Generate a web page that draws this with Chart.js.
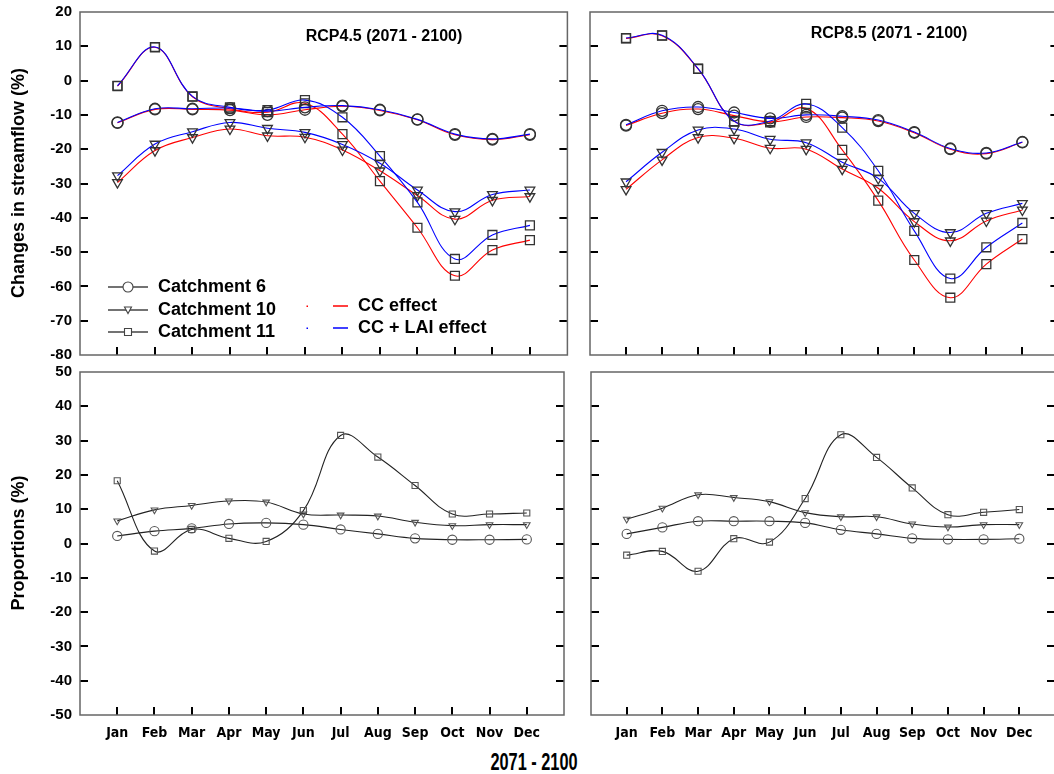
<!DOCTYPE html>
<html><head><meta charset="utf-8">
<script src="https://cdn.jsdelivr.net/npm/chart.js@4.4.0/dist/chart.umd.min.js"></script>
<style>
html,body{margin:0;padding:0;background:#fff;overflow:hidden;width:1054px;height:774px;position:relative;}
canvas{position:absolute;}
.t{position:absolute;font-family:"Liberation Sans",Arial,sans-serif;font-weight:bold;color:#000;white-space:nowrap;line-height:1;}
</style></head><body>
<canvas id="tl"></canvas><canvas id="tr"></canvas><canvas id="bl"></canvas><canvas id="br"></canvas>
<div class="t" id="ytop" style="font-size:18px;left:18px;top:183px;transform:translate(-50%,-50%) rotate(-90deg);">Changes in streamflow (%)</div>
<div class="t" id="ybot" style="font-size:18px;left:18px;top:543px;transform:translate(-50%,-50%) rotate(-90deg);">Proportions (%)</div>
<div class="t" style="font-size:24px;left:534px;top:762px;transform:translate(-50%,-50%) scaleX(0.68);">2071 - 2100</div>
<div class="t" style="font-size:16px;left:384px;top:36px;transform:translate(-50%,-50%);">RCP4.5 (2071 - 2100)</div>
<div class="t" style="font-size:16px;left:889px;top:33px;transform:translate(-50%,-50%);">RCP8.5 (2071 - 2100)</div>
<script>
const months = ['Jan','Feb','Mar','Apr','May','Jun','Jul','Aug','Sep','Oct','Nov','Dec'];
const yTicksTop = [-80,-70,-60,-50,-40,-30,-20,-10,0,10,20];
const yTicksBot = [-50,-40,-30,-20,-10,0,10,20,30,40,50];

// Changes in streamflow (%), RCP4.5 — CC effect (red) / CC + LAI effect (blue)
const c6_45_cc   = [-12.3,-8.4,-8.4,-8.6,-10.0,-8.5,-7.5,-8.7,-11.4,-15.8,-17.2,-15.8];
const c6_45_lai  = [-12.2,-8.2,-8.2,-8.0,-8.9,-7.8,-7.3,-8.5,-11.3,-15.6,-17.0,-15.6];
const c10_45_cc  = [-29.7,-20.4,-16.6,-14.1,-16.1,-16.5,-20.2,-26.3,-33.5,-40.4,-34.9,-33.8];
const c10_45_lai = [-27.7,-18.5,-14.9,-12.2,-13.9,-15.1,-18.6,-24.1,-31.9,-38.2,-33.2,-31.9];
const c11_45_cc  = [-1.6,9.7,-4.7,-8.2,-9.2,-6.6,-15.6,-29.3,-42.9,-56.9,-49.4,-46.5];
const c11_45_lai = [-1.5,9.8,-4.6,-7.8,-8.6,-5.7,-10.7,-22.0,-35.5,-52.0,-45.0,-42.2];

// RCP8.5
const c6_85_cc   = [-13.1,-9.5,-8.3,-10.2,-12.0,-10.6,-10.8,-11.8,-15.2,-20.0,-21.3,-18.0];
const c6_85_lai  = [-12.9,-8.8,-7.7,-9.3,-11.0,-10.0,-10.4,-11.5,-15.0,-19.8,-21.1,-17.9];
const c10_85_cc  = [-31.7,-23.1,-16.6,-16.8,-19.7,-20.0,-25.8,-31.4,-41.1,-46.7,-40.9,-37.7];
const c10_85_lai = [-29.5,-20.9,-14.4,-14.1,-17.1,-18.1,-23.8,-28.5,-38.7,-44.3,-38.7,-35.8];
const c11_85_cc  = [12.3,13.1,3.4,-11.8,-12.2,-8.1,-20.2,-35.0,-52.3,-63.3,-53.5,-46.2];
const c11_85_lai = [12.4,13.2,3.5,-11.8,-11.8,-6.8,-13.7,-26.3,-43.8,-57.7,-48.6,-41.5];

// Proportions (%)
const p6_45  = [2.2,3.6,4.4,5.7,6.0,5.5,4.1,2.8,1.5,1.1,1.1,1.2];
const p10_45 = [6.6,9.8,11.1,12.4,12.1,8.6,8.3,8.0,6.2,5.2,5.5,5.5];
const p11_45 = [18.3,-2.2,4.1,1.5,0.6,9.6,31.5,25.2,16.9,8.6,8.6,8.9];
const p6_85  = [2.8,4.7,6.5,6.5,6.5,6.0,4.0,2.8,1.5,1.2,1.2,1.4];
const p10_85 = [7.1,10.3,14.2,13.4,12.2,9.0,7.8,7.8,5.7,4.8,5.5,5.5];
const p11_85 = [-3.4,-2.3,-8.1,1.4,0.4,13.1,31.7,25.1,16.2,8.4,9.1,9.9];

const FONT = '"Liberation Sans", Arial, sans-serif';
const NARROW = '"Liberation Sans Narrow", "DejaVu Sans Condensed", Arial, sans-serif';
const RED = '#ff0000', BLUE = '#0000ff';

function pts(arr){ return arr.map((v,i)=>({x:i+1,y:v})); }

const shapes = {
  c6:  {pointStyle:'circle', rotation:0},
  c10: {pointStyle:'triangle', rotation:180},
  c11: {pointStyle:'rect', rotation:0}
};
function ds(arr, color, shape, top){
  const s = shapes[shape];
  let r;
  if (top) r = shape==='c6'?5.5:(shape==='c10'?5.6:6.3);
  else r = shape==='c6'?4.6:(shape==='c10'?3.8:4.3);
  return {
    data: pts(arr), borderColor: color, borderWidth: 1.1,
    tension: 0.4, fill:false,
    pointStyle: s.pointStyle, rotation: s.rotation, pointRadius: r,
    pointBorderColor: top?'#333':'#555', pointBackgroundColor:'rgba(0,0,0,0)',
    pointBorderWidth: top?1.3:1.1, clip: false
  };
}

const framePlugin = {
  id:'frame',
  afterDatasetsDraw(chart){
    const ctx = chart.ctx, a = chart.chartArea;
    const xs = chart.scales.x, ys = chart.scales.y;
    ctx.save();
    ctx.strokeStyle = '#000'; ctx.lineWidth = 2;
    ctx.beginPath();
    ys.ticks.forEach(t=>{
      if (t.value > ys.min && t.value < ys.max){
        const py = Math.round(ys.getPixelForValue(t.value));
        ctx.moveTo(a.left, py); ctx.lineTo(a.left+8, py);
        ctx.moveTo(a.right-8, py); ctx.lineTo(a.right, py);
      }
    });
    xs.ticks.forEach(t=>{
      if (t.value >= 1 && t.value <= 12){
        const px = Math.round(xs.getPixelForValue(t.value));
        ctx.moveTo(px, a.bottom); ctx.lineTo(px, a.bottom-8);
      }
    });
    ctx.stroke();
    ctx.strokeStyle = '#666'; ctx.lineWidth = 1.5;
    ctx.strokeRect(a.left, a.top, a.right-a.left, a.bottom-a.top);
    ctx.restore();
  }
};

const legendPlugin = {
  id:'customLegend',
  afterDraw(chart){
    const ctx = chart.ctx;
    ctx.save();
    const rows = [
      {y:287, label:'Catchment 6', shape:'circle'},
      {y:310, label:'Catchment 10', shape:'tri'},
      {y:332, label:'Catchment 11', shape:'rect'}
    ];
    ctx.font = 'bold 18px '+FONT;
    ctx.textBaseline = 'middle';
    ctx.fillStyle = '#000';
    rows.forEach(r=>{
      ctx.strokeStyle = '#444'; ctx.lineWidth = 1.3;
      ctx.beginPath(); ctx.moveTo(108, r.y); ctx.lineTo(148, r.y); ctx.stroke();
      ctx.fillStyle = '#fff'; ctx.strokeStyle = '#444'; ctx.lineWidth = 1.1;
      ctx.beginPath();
      if (r.shape==='circle'){ ctx.arc(128, r.y, 5, 0, Math.PI*2); }
      else if (r.shape==='tri'){ ctx.moveTo(124.5, r.y-3); ctx.lineTo(131.5, r.y-3); ctx.lineTo(128, r.y+3.5); ctx.closePath(); }
      else { ctx.rect(124.5, r.y-3.5, 7, 7); }
      ctx.fill(); ctx.stroke();
      ctx.fillStyle = '#000';
      ctx.fillText(r.label, 158, r.y);
    });
    const eff = [{y:306,label:'CC effect',c:RED},{y:328,label:'CC + LAI effect',c:BLUE}];
    eff.forEach(e=>{
      ctx.strokeStyle = e.c; ctx.lineWidth = 1.5;
      ctx.beginPath(); ctx.moveTo(333, e.y); ctx.lineTo(348, e.y); ctx.stroke();
      ctx.fillStyle = e.c; ctx.fillRect(306.5, e.y-0.5, 1.5, 1.5);
      ctx.fillStyle = '#000';
      ctx.fillText(e.label, 358, e.y);
    });
    ctx.restore();
  }
};

function makePanel(id, area, opt){
  const YW = opt.yLabels ? 80 : 10;
  const PT = opt.top ? 12 : 9;
  const PR = 4;
  const XH = opt.xLabels ? 30 : 8;
  const cv = document.getElementById(id);
  const w = (area.r - area.l) + YW + PR;
  const h = (area.b - area.t) + PT + XH;
  cv.width = w; cv.height = h;
  cv.style.left = (area.l - YW) + 'px';
  cv.style.top = (area.t - PT) + 'px';
  cv.style.width = w + 'px'; cv.style.height = h + 'px';
  const yt = opt.top ? yTicksTop : yTicksBot;
  const plugins = [framePlugin];
  if (opt.legend) plugins.push(legendPlugin);
  return new Chart(cv, {
    type:'line',
    data:{datasets: opt.datasets},
    plugins,
    options:{
      responsive:false, animation:false, devicePixelRatio:1,
      layout:{padding:{top:PT, right:PR, left:0, bottom:0}},
      plugins:{legend:{display:false}, tooltip:{enabled:false}, title:{display:false}},
      scales:{
        x:{
          type:'linear', min:0, max:13,
          grid:{display:false, drawTicks:false}, border:{display:false},
          afterFit(s){ s.height = XH; },
          ticks:{
            display: opt.xLabels, stepSize:1, autoSkip:false, maxRotation:0, minRotation:0,
            padding:11, color:'#000',
            font:{family:NARROW, weight:'bold', size:14, lineHeight:1},
            callback:(v)=> (v>=1 && v<=12 && Number.isInteger(v)) ? months[v-1] : ''
          }
        },
        y:{
          type:'linear', min: yt[0], max: yt[yt.length-1],
          afterBuildTicks(s){ s.ticks = yt.map(v=>({value:v})); },
          grid:{display:false, drawTicks:true, tickLength:8}, border:{display:false},
          afterFit(s){ s.width = YW; },
          ticks:{
            display: opt.yLabels, padding:0, color:'#000',
            font:{family:FONT, weight:'bold', size:15, lineHeight:1},
            callback:(v)=> String(v)
          }
        }
      }
    }
  });
}

// blue datasets listed first so they are drawn on top of red
makePanel('tl', {l:80,t:12,r:571,b:355}, {top:true, yLabels:true, xLabels:false, legend:true, datasets:[
  ds(c6_45_lai,BLUE,'c6',true), ds(c10_45_lai,BLUE,'c10',true), ds(c11_45_lai,BLUE,'c11',true),
  ds(c6_45_cc,RED,'c6',true), ds(c10_45_cc,RED,'c10',true), ds(c11_45_cc,RED,'c11',true)
]});
makePanel('tr', {l:590,t:12,r:1062,b:355}, {top:true, yLabels:false, xLabels:false, datasets:[
  ds(c6_85_lai,BLUE,'c6',true), ds(c10_85_lai,BLUE,'c10',true), ds(c11_85_lai,BLUE,'c11',true),
  ds(c6_85_cc,RED,'c6',true), ds(c10_85_cc,RED,'c10',true), ds(c11_85_cc,RED,'c11',true)
]});
makePanel('bl', {l:80,t:372,r:571,b:715}, {top:false, yLabels:true, xLabels:true, datasets:[
  ds(p6_45,'#222','c6',false), ds(p10_45,'#222','c10',false), ds(p11_45,'#222','c11',false)
]});
makePanel('br', {l:590,t:372,r:1062,b:715}, {top:false, yLabels:false, xLabels:true, datasets:[
  ds(p6_85,'#222','c6',false), ds(p10_85,'#222','c10',false), ds(p11_85,'#222','c11',false)
]});
</script>
</body></html>
